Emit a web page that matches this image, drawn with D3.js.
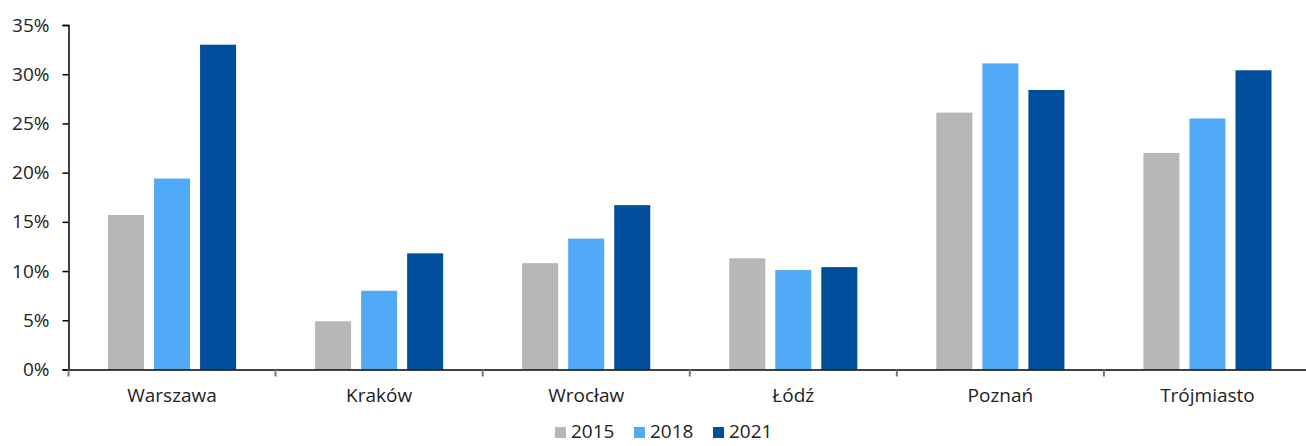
<!DOCTYPE html>
<html>
<head>
<meta charset="utf-8">
<script src="https://cdn.jsdelivr.net/npm/d3@7"></script>
<style>
  body { margin: 0; background: #fff; }
  text { font-family: "Open Sans", sans-serif; fill: #222; }
</style>
</head>
<body>
<div id="chart"></div>
<script>
// City shares by year
const cities = ["Warszawa", "Kraków", "Wrocław", "Łódź", "Poznań", "Trójmiasto"];
const years = ["2015", "2018", "2021"];
const v2015 = [15.7, 4.9, 10.8, 11.3, 26.1, 22.0];
const v2018 = [19.4, 8.0, 13.3, 10.1, 31.1, 25.5];
const v2021 = [33.0, 11.8, 16.7, 10.4, 28.4, 30.4];
const yTicks = [0, 5, 10, 15, 20, 25, 30, 35];
const colors = ["#b7b7b7", "#51aaf8", "#014e9c"];

const series = [v2015, v2018, v2021];

const W = 1306, H = 446;
const margin = {left: 68.5, right: -5, top: 25, bottom: 76.5};

const svg = d3.select("#chart").append("svg")
  .attr("width", W)
  .attr("height", H);

const x = d3.scaleBand()
  .domain(cities)
  .range([margin.left, W - margin.right]);

const x1 = d3.scaleBand()
  .domain(years)
  .range([39.5, x.bandwidth() - 39.5])
  .paddingInner(10 / 46);

const y = d3.scaleLinear()
  .domain([0, 35])
  .range([H - margin.bottom, margin.top]);

// bars
const groups = svg.append("g")
  .selectAll("g")
  .data(cities)
  .join("g")
    .attr("transform", d => `translate(${x(d)},0)`);

groups.selectAll("rect")
  .data((c, i) => years.map((yr, j) => ({yr, val: series[j][i], j})))
  .join("rect")
    .attr("x", d => x1(d.yr))
    .attr("width", x1.bandwidth())
    .attr("y", d => y(d.val))
    .attr("height", d => y(0) - y(d.val))
    .attr("fill", d => colors[d.j]);

// y axis
const yAxis = svg.append("g")
  .attr("transform", `translate(${margin.left},0)`)
  .call(d3.axisLeft(y).tickValues(yTicks).tickFormat(d => d + "%").tickSize(6).tickPadding(13));
yAxis.select(".domain").attr("stroke", "#000").attr("stroke-width", 1.5);
yAxis.selectAll(".tick line").attr("stroke", "#000").attr("stroke-width", 1.5);
yAxis.selectAll("text").style("font-size", "19px").attr("fill", "#222");

// x axis
const xAxis = svg.append("g")
  .attr("transform", `translate(0,${y(0)})`)
  .call(d3.axisBottom(x).tickSize(0).tickPadding(19));
xAxis.select(".domain").attr("stroke", "#000").attr("stroke-width", 1.5);
xAxis.selectAll("text").style("font-size", "19px").attr("fill", "#222");

// category separators
svg.append("g")
  .selectAll("line")
  .data(cities)
  .join("line")
    .attr("x1", d => x(d))
    .attr("x2", d => x(d))
    .attr("y1", y(0))
    .attr("y2", y(0) + 7)
    .attr("stroke", "#777")
    .attr("stroke-width", 2);

// legend
const legendX = [555, 634, 713];
const legend = svg.append("g")
  .selectAll("g")
  .data(years)
  .join("g")
    .attr("transform", (d, i) => `translate(${legendX[i]},425)`);
legend.append("rect")
  .attr("y", 2)
  .attr("width", 11).attr("height", 11)
  .attr("fill", (d, i) => colors[i]);
legend.append("text")
  .attr("x", 16).attr("y", 13)
  .style("font-size", "19px")
  .text(d => d);
</script>
</body>
</html>
